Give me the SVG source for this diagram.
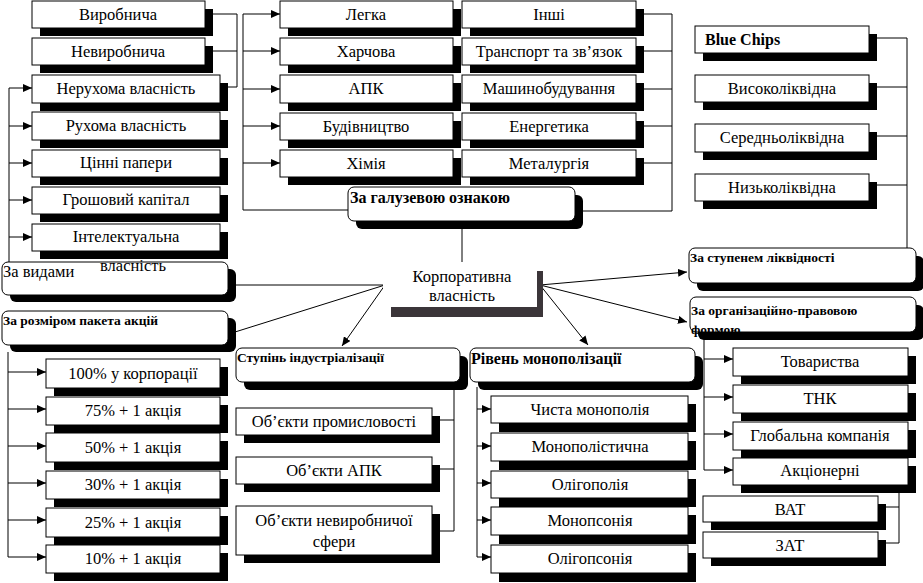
<svg xmlns="http://www.w3.org/2000/svg" width="923" height="583" viewBox="0 0 923 583">
<defs>
<marker id="ar" markerWidth="9" markerHeight="8" refX="9" refY="4" orient="auto" markerUnits="userSpaceOnUse">
<path d="M0,0 L9,4 L0,8 z" fill="#000"/>
</marker>
<style>
.bx{fill:#fff;stroke:#000;stroke-width:1}
.sh{fill:#000}
.t{font-family:"Liberation Serif","Times New Roman",serif;font-size:16.5px;fill:#000;text-anchor:middle}
.l{font-family:"Liberation Serif","Times New Roman",serif;font-size:16.5px;fill:#000}
.b{font-family:"Liberation Serif","Times New Roman",serif;font-size:16px;font-weight:bold;fill:#000}
.bs{font-family:"Liberation Serif","Times New Roman",serif;font-size:13.5px;font-weight:bold;fill:#000}
.c{fill:none;stroke:#000;stroke-width:1}
.a{fill:none;stroke:#000;stroke-width:1;marker-end:url(#ar)}
</style>
</defs>
<rect width="923" height="583" fill="#fff"/>

<g id="connectors">
<path class="c" d="M9,88 V262"/>
<path class="a" d="M9,88 H32"/>
<path class="a" d="M9,126 H32"/>
<path class="a" d="M9,163 H32"/>
<path class="a" d="M9,200 H32"/>
<path class="a" d="M9,237 H32"/>
<path class="c" d="M213,14 H237 V87 H228 M213,51 H237"/>
<path class="c" d="M348,210 H243 V14"/>
<path class="a" d="M243,14 H280"/>
<path class="a" d="M243,51 H280"/>
<path class="a" d="M243,89 H280"/>
<path class="a" d="M243,126 H280"/>
<path class="a" d="M243,163 H280"/>
<path class="c" d="M644,14 H672 V211 H583 M644,51 H672 M644,89 H672 M644,126 H672 M644,163 H672"/>
<path class="c" d="M462,229 V262"/>
<path class="c" d="M877,38 H907 V248 M877,87 H907 M877,136 H907 M877,185 H907"/>
<path class="c" d="M385,285 H236 M385,285 L235,332"/>
<path class="a" d="M385,285 L342,346"/>
<path class="a" d="M540,285 L687,272"/>
<path class="a" d="M540,285 L687,322"/>
<path class="a" d="M540,285 L588,345"/>
<path class="c" d="M704,332 V470"/>
<path class="a" d="M704,359 H733"/>
<path class="a" d="M704,397 H733"/>
<path class="a" d="M704,434 H733"/>
<path class="a" d="M704,470 H733"/>
<path class="c" d="M886,483 H899 V543 H886 M886,507 H899"/>
<path class="c" d="M8,352 V557"/>
<path class="a" d="M8,372 H46"/>
<path class="a" d="M8,409 H46"/>
<path class="a" d="M8,446 H46"/>
<path class="a" d="M8,483 H46"/>
<path class="a" d="M8,520 H46"/>
<path class="a" d="M8,557 H46"/>
<path class="c" d="M454,390 V531 H440 M440,420 H454 M440,469 H454"/>
<path class="c" d="M477,387 V557"/>
<path class="a" d="M477,409 H491"/>
<path class="a" d="M477,446 H491"/>
<path class="a" d="M477,483 H491"/>
<path class="a" d="M477,520 H491"/>
<path class="a" d="M477,557 H491"/>
</g>

<g id="vyrobnycha"><rect class="sh" x="40" y="9" width="173" height="27"/><rect class="bx" x="32" y="1" width="173" height="27"/><text class="t" x="118" y="20">Виробнича</text></g>
<g id="nevyrobnycha"><rect class="sh" x="40" y="46" width="173" height="27"/><rect class="bx" x="32" y="38" width="173" height="27"/><text class="t" x="118" y="57">Невиробнича</text></g>
<g id="nerukhoma"><rect class="sh" x="40" y="83" width="188" height="28"/><rect class="bx" x="32" y="75" width="188" height="28"/><text class="t" x="126" y="94">Нерухома власність</text></g>
<g id="rukhoma"><rect class="sh" x="40" y="120" width="188" height="28"/><rect class="bx" x="32" y="112" width="188" height="28"/><text class="t" x="126" y="131">Рухома власність</text></g>
<g id="tsinni"><rect class="sh" x="40" y="158" width="188" height="27"/><rect class="bx" x="32" y="150" width="188" height="27"/><text class="t" x="126" y="168">Цінні папери</text></g>
<g id="hroshovyi"><rect class="sh" x="40" y="195" width="188" height="27"/><rect class="bx" x="32" y="187" width="188" height="27"/><text class="t" x="126" y="205">Грошовий капітал</text></g>
<g id="intelekt"><rect class="sh" x="40" y="232" width="188" height="27"/><rect class="bx" x="32" y="224" width="188" height="27"/><text class="t" x="126" y="242">Інтелектуальна</text></g>
<g id="za-vydamy"><rect class="sh" x="10" y="269" width="226" height="33" rx="6"/><rect class="bx" x="2" y="262" width="226" height="33" rx="6"/><text class="l" x="3" y="277">За видами</text><text class="t" x="133" y="271">власність</text></g>

<g id="lehka"><rect class="sh" x="288" y="9" width="173" height="27"/><rect class="bx" x="280" y="1" width="173" height="27"/><text class="t" x="366" y="20">Легка</text></g>
<g id="kharchova"><rect class="sh" x="288" y="46" width="173" height="27"/><rect class="bx" x="280" y="38" width="173" height="27"/><text class="t" x="366" y="57">Харчова</text></g>
<g id="apk"><rect class="sh" x="288" y="83" width="173" height="28"/><rect class="bx" x="280" y="75" width="173" height="28"/><text class="t" x="366" y="94">АПК</text></g>
<g id="budivnytstvo"><rect class="sh" x="288" y="121" width="173" height="27"/><rect class="bx" x="280" y="113" width="173" height="27"/><text class="t" x="366" y="132">Будівництво</text></g>
<g id="khimiia"><rect class="sh" x="288" y="158" width="173" height="27"/><rect class="bx" x="280" y="150" width="173" height="27"/><text class="t" x="366" y="169">Хімія</text></g>
<g id="inshi"><rect class="sh" x="470" y="9" width="174" height="27"/><rect class="bx" x="462" y="1" width="174" height="27"/><text class="t" x="549" y="20">Інші</text></g>
<g id="transport"><rect class="sh" x="470" y="46" width="174" height="27"/><rect class="bx" x="462" y="38" width="174" height="27"/><text class="t" x="549" y="57">Транспорт та зв’язок</text></g>
<g id="mashyno"><rect class="sh" x="470" y="83" width="174" height="28"/><rect class="bx" x="462" y="75" width="174" height="28"/><text class="t" x="549" y="94">Машинобудування</text></g>
<g id="enerhetyka"><rect class="sh" x="470" y="121" width="174" height="27"/><rect class="bx" x="462" y="113" width="174" height="27"/><text class="t" x="549" y="132">Енергетика</text></g>
<g id="metalurhiia"><rect class="sh" x="470" y="158" width="174" height="27"/><rect class="bx" x="462" y="150" width="174" height="27"/><text class="t" x="549" y="169">Металургія</text></g>
<g id="za-haluzevoiu"><rect class="sh" x="356" y="195" width="227" height="34" rx="6"/><rect class="bx" x="348" y="187" width="227" height="34" rx="6"/><text class="b" x="350" y="203">За галузевою ознакою</text></g>

<g id="korporatyvna">
<path d="M537,271 H543 V317 H391 V307 H537 Z" fill="#3b3539"/>
<rect x="383" y="263" width="154" height="44" fill="#fff"/>
<text class="t" x="462" y="282">Корпоративна</text>
<text class="t" x="462" y="301">власність</text>
</g>

<g id="blue-chips"><rect class="sh" x="703" y="34" width="174" height="27"/><rect class="bx" x="695" y="26" width="174" height="27"/><text class="b" x="705" y="45">Blue Chips</text></g>
<g id="vysoko"><rect class="sh" x="703" y="83" width="174" height="27"/><rect class="bx" x="695" y="75" width="174" height="27"/><text class="t" x="782" y="94">Високоліквідна</text></g>
<g id="seredno"><rect class="sh" x="703" y="132" width="174" height="28"/><rect class="bx" x="695" y="124" width="174" height="28"/><text class="t" x="782" y="143">Середньоліквідна</text></g>
<g id="nyzko"><rect class="sh" x="703" y="182" width="174" height="27"/><rect class="bx" x="695" y="174" width="174" height="27"/><text class="t" x="782" y="193">Низьколіквідна</text></g>
<g id="za-stupenem"><rect class="sh" x="697" y="256" width="227" height="35" rx="6"/><rect class="bx" x="689" y="248" width="227" height="35" rx="6"/><text class="bs" x="690" y="262">За ступенем ліквідності</text></g>

<g id="za-orh"><rect class="sh" x="698" y="305" width="226" height="35" rx="6"/><rect class="bx" x="690" y="297" width="226" height="35" rx="6"/><text class="bs" x="691" y="315">За організаційно-правовою</text><text class="bs" x="691" y="334">формою</text></g>
<g id="tovarystva"><rect class="sh" x="741" y="356" width="175" height="28"/><rect class="bx" x="733" y="348" width="175" height="28"/><text class="t" x="820" y="367">Товариства</text></g>
<g id="tnk"><rect class="sh" x="741" y="393" width="175" height="28"/><rect class="bx" x="733" y="385" width="175" height="28"/><text class="t" x="820" y="404">ТНК</text></g>
<g id="hlobalna"><rect class="sh" x="741" y="430" width="175" height="28"/><rect class="bx" x="733" y="422" width="175" height="28"/><text class="t" x="820" y="441">Глобальна компанія</text></g>
<g id="aktsionerni"><rect class="sh" x="741" y="466" width="175" height="27"/><rect class="bx" x="733" y="458" width="175" height="27"/><text class="t" x="820" y="476">Акціонерні</text></g>
<g id="vat"><rect class="sh" x="711" y="504" width="175" height="26"/><rect class="bx" x="703" y="496" width="175" height="26"/><text class="t" x="790" y="515">ВАТ</text></g>
<g id="zat"><rect class="sh" x="711" y="540" width="175" height="26"/><rect class="bx" x="703" y="532" width="175" height="26"/><text class="t" x="790" y="551">ЗАТ</text></g>

<g id="za-rozmirom"><rect class="sh" x="10" y="318" width="226" height="34" rx="6"/><rect class="bx" x="2" y="311" width="226" height="34" rx="6"/><text class="bs" x="3" y="325">За розміром пакета акцій</text></g>
<g id="p100"><rect class="sh" x="54" y="367" width="174" height="29"/><rect class="bx" x="46" y="359" width="174" height="29"/><text class="t" x="133" y="379">100% у корпорації</text></g>
<g id="p75"><rect class="sh" x="54" y="405" width="174" height="28"/><rect class="bx" x="46" y="397" width="174" height="28"/><text class="t" x="133" y="416">75% + 1 акція</text></g>
<g id="p50"><rect class="sh" x="54" y="441" width="174" height="29"/><rect class="bx" x="46" y="433" width="174" height="29"/><text class="t" x="133" y="453">50% + 1 акція</text></g>
<g id="p30"><rect class="sh" x="54" y="479" width="174" height="28"/><rect class="bx" x="46" y="471" width="174" height="28"/><text class="t" x="133" y="490">30% + 1 акція</text></g>
<g id="p25"><rect class="sh" x="54" y="516" width="174" height="29"/><rect class="bx" x="46" y="508" width="174" height="29"/><text class="t" x="133" y="528">25% + 1 акція</text></g>
<g id="p10"><rect class="sh" x="54" y="553" width="174" height="28"/><rect class="bx" x="46" y="545" width="174" height="28"/><text class="t" x="133" y="564">10% + 1 акція</text></g>

<g id="stupin"><rect class="sh" x="244" y="356" width="224" height="34" rx="6"/><rect class="bx" x="236" y="348" width="224" height="34" rx="6"/><text class="bs" x="237" y="362">Ступінь індустріалізації</text></g>
<g id="ob-prom"><rect class="sh" x="244" y="416" width="196" height="27"/><rect class="bx" x="236" y="408" width="196" height="27"/><text class="t" x="334" y="427">Об’єкти промисловості</text></g>
<g id="ob-apk"><rect class="sh" x="244" y="465" width="196" height="27"/><rect class="bx" x="236" y="457" width="196" height="27"/><text class="t" x="334" y="476">Об’єкти АПК</text></g>
<g id="ob-nevyr"><rect class="sh" x="244" y="514" width="196" height="49"/><rect class="bx" x="236" y="506" width="196" height="49"/><text class="t" x="334" y="526">Об’єкти невиробничої</text><text class="t" x="334" y="547">сфери</text></g>

<g id="riven"><rect class="sh" x="478" y="356" width="225" height="34" rx="6"/><rect class="bx" x="470" y="348" width="225" height="34" rx="6"/><text class="b" x="471" y="364">Рівень монополізації</text></g>
<g id="chysta"><rect class="sh" x="499" y="404" width="197" height="28"/><rect class="bx" x="491" y="396" width="197" height="27"/><text class="t" x="590" y="415">Чиста монополія</text></g>
<g id="monopolistychna"><rect class="sh" x="499" y="441" width="197" height="29"/><rect class="bx" x="491" y="433" width="197" height="28"/><text class="t" x="590" y="452">Монополістична</text></g>
<g id="oligopoliia"><rect class="sh" x="499" y="479" width="197" height="28"/><rect class="bx" x="491" y="471" width="197" height="27"/><text class="t" x="590" y="490">Олігополія</text></g>
<g id="monopsoniia"><rect class="sh" x="499" y="515" width="197" height="29"/><rect class="bx" x="491" y="507" width="197" height="28"/><text class="t" x="590" y="526">Монопсонія</text></g>
<g id="oligopsoniia"><rect class="sh" x="499" y="553" width="197" height="29"/><rect class="bx" x="491" y="545" width="197" height="28"/><text class="t" x="590" y="564">Олігопсонія</text></g>
</svg>
